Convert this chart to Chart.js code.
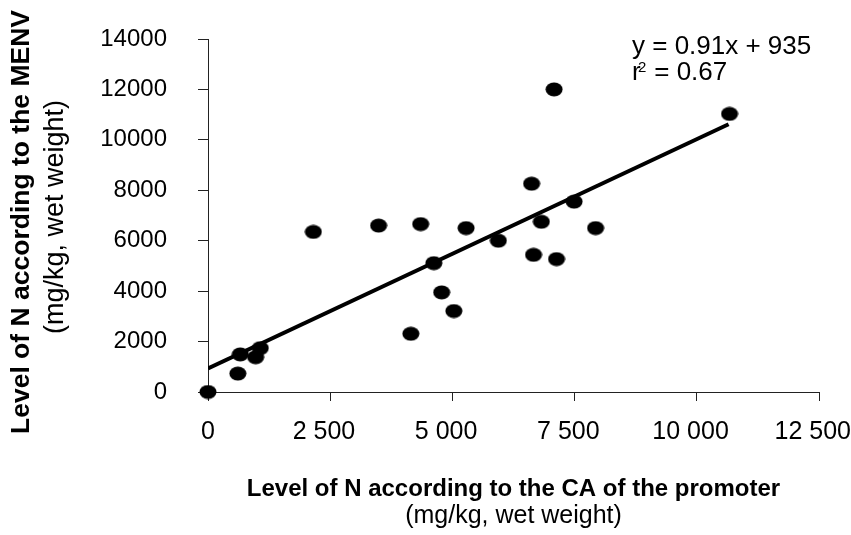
<!DOCTYPE html>
<html lang="en">
<head>
<meta charset="UTF-8" />
<title>Level of N: MENV vs CA of the promoter</title>
<script src="https://cdn.jsdelivr.net/npm/chart.js"></script>
<style>
  html, body { margin: 0; padding: 0; background: #fff; }
  #wrap { width: 851px; height: 535px; }
</style>
</head>
<body>
<div id="wrap"><canvas id="nChart"></canvas></div>
<script>
// values (mg/kg, wet weight)
const caValues   = [0, 610, 660, 975, 1070, 2155, 3490, 4350, 5280, 4620, 4780, 5030, 4150, 5940, 6660, 7130, 6820, 7490, 7930, 7080, 10670, 6620];
const menvValues = [0, 730, 1490, 1380, 1740, 6350, 6600, 6660, 6500, 5110, 3950, 3210, 2310, 6000, 5440, 5270, 6750, 7550, 6500, 12000, 11030, 8260];

// regression line end points, as drawn
const trendX = [0, 10650];
const trendY = [935, 10620];

const xTickLabels = ['0', '2 500', '5 000', '7 500', '10 000', '12 500'];
const yTickLabels = ['0', '2000', '4000', '6000', '8000', '10000', '12000', '14000'];

const xTitle = 'Level of N according to the CA of the promoter';
const yTitle = 'Level of N according to the MENV';
const unitText = '(mg/kg, wet weight)';
const eqLine = 'y = 0.91x + 935';
const r2Parts = ['r', '2', ' = 0.67'];

const FONT = "'Liberation Sans', Arial, sans-serif";

// filled ellipse used as the marker
const dot = document.createElement('canvas');
dot.width = 18;
dot.height = 15;
const dctx = dot.getContext('2d');
dctx.fillStyle = '#000';
dctx.beginPath();
dctx.ellipse(9, 7.5, 8.5, 7, 0, 0, Math.PI * 2);
dctx.fill();

const points = caValues.map((x, i) => ({ x: x, y: menvValues[i] }));
const trend = trendX.map((x, i) => ({ x: x, y: trendY[i] }));

// y title, second title lines and the equation
const extraText = {
  id: 'extraText',
  afterDraw(chart) {
    const ctx = chart.ctx;
    const area = chart.chartArea;
    ctx.save();
    ctx.fillStyle = '#000';
    ctx.textAlign = 'center';

    ctx.font = '25px ' + FONT;
    ctx.textBaseline = 'alphabetic';
    ctx.fillText(unitText, (area.left + area.right) / 2, 523);

    ctx.save();
    ctx.translate(22, 222);
    ctx.rotate(-Math.PI / 2);
    ctx.font = 'bold 26.5px ' + FONT;
    ctx.textBaseline = 'middle';
    ctx.fillText(yTitle, 0, 0);
    ctx.restore();

    ctx.save();
    ctx.translate(63, 217);
    ctx.rotate(-Math.PI / 2);
    ctx.font = '27px ' + FONT;
    ctx.fillText(unitText, 0, 0);
    ctx.restore();

    ctx.textAlign = 'left';
    ctx.font = '26px ' + FONT;
    ctx.fillText(eqLine, 632, 54);
    ctx.fillText(r2Parts[0], 632, 80);
    ctx.font = '15px ' + FONT;
    ctx.fillText(r2Parts[1], 638, 72);
    ctx.font = '26px ' + FONT;
    ctx.fillText(r2Parts[2], 647, 80);
    ctx.restore();
  }
};

new Chart(document.getElementById('nChart'), {
  type: 'scatter',
  data: {
    datasets: [
      {
        data: trend,
        showLine: true,
        borderColor: '#000',
        borderWidth: 4,
        pointRadius: 0,
        fill: false
      },
      {
        data: points,
        pointStyle: dot,
        pointRadius: 8,
        backgroundColor: '#000',
        borderWidth: 0,
        clip: false
      }
    ]
  },
  options: {
    responsive: true,
    maintainAspectRatio: false,
    animation: false,
    layout: { padding: { top: 39, left: 0, right: 0, bottom: 0 } },
    plugins: {
      legend: { display: false },
      tooltip: { enabled: false }
    },
    scales: {
      x: {
        type: 'linear',
        min: 0,
        max: 12500,
        ticks: {
          stepSize: 2500,
          color: '#000',
          padding: 16,
          maxRotation: 0,
          autoSkip: false,
          font: { family: FONT, size: 25 },
          // labels with a group space sit a little left of their tick
          callback: (v, i) => xTickLabels[i].includes(' ') ? xTickLabels[i] + '\u2002' : xTickLabels[i]
        },
        grid: { drawOnChartArea: false, drawTicks: true, tickLength: 9, color: '#222' },
        border: { color: '#222', width: 1 },
        title: {
          display: true,
          text: xTitle,
          color: '#000',
          font: { family: FONT, size: 24, weight: 'bold' },
          padding: { top: 0, bottom: 31 }
        },
        afterFit: s => { s.height = 143; s.paddingLeft = 0; s.paddingRight = 32; }
      },
      y: {
        type: 'linear',
        min: 0,
        max: 14000,
        ticks: {
          stepSize: 2000,
          color: '#000',
          padding: 31,
          font: { family: FONT, size: 24 },
          callback: (v, i) => yTickLabels[i]
        },
        grid: { drawOnChartArea: false, drawTicks: true, tickLength: 10, color: '#222' },
        border: { color: '#222', width: 1 },
        title: { display: false },
        afterFit: s => { s.width = 208; s.paddingTop = 0; s.paddingBottom = 0; }
      }
    }
  },
  plugins: [extraText]
});
</script>
</body>
</html>
